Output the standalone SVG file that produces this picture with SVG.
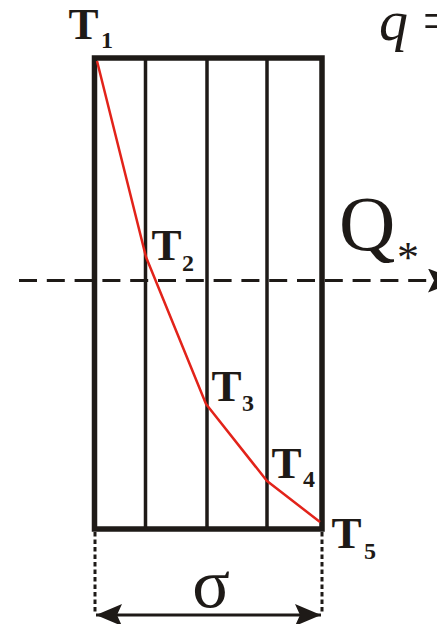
<svg xmlns="http://www.w3.org/2000/svg" width="437" height="624" viewBox="0 0 437 624">
<defs>
<style>
.frame{fill:none;stroke:#1e1a17;stroke-width:5.5}
.div{stroke:#1e1a17;stroke-width:3.5}
.temp{fill:none;stroke:#e2231a;stroke-width:2.5;stroke-linejoin:round}
.flow{stroke:#1e1a17;stroke-width:3;stroke-dasharray:18 9.8}
.ext{stroke:#1e1a17;stroke-width:3;stroke-dasharray:4.5 3}
.dim{stroke:#1e1a17;stroke-width:3}
.T{font-family:"Liberation Serif","Times New Roman",serif;font-weight:bold;font-size:45px;fill:#1e1a17}
.sub{font-family:"Liberation Serif","Times New Roman",serif;font-weight:bold;font-size:24px;fill:#1e1a17}
.lbl{font-family:"Liberation Serif","Times New Roman",serif;fill:#1e1a17}
</style>
<marker id="ah" viewBox="0 0 30 24" refX="30" refY="12" markerWidth="30" markerHeight="24" markerUnits="userSpaceOnUse" orient="auto">
<path d="M0,0 L30,12 L0,24 L6,12 Z" fill="#1e1a17"/>
</marker>
<marker id="dh" viewBox="0 0 26 22" refX="26" refY="11" markerWidth="26" markerHeight="22" markerUnits="userSpaceOnUse" orient="auto-start-reverse">
<path d="M0,0 L26,11 L0,22 L5,11 Z" fill="#1e1a17"/>
</marker>
</defs>
<g id="wall">
<rect class="frame" x="94.5" y="58" width="227.5" height="471"/>
<line class="div" x1="145.5" y1="58" x2="145.5" y2="529"/>
<line class="div" x1="207" y1="58" x2="207" y2="529"/>
<line class="div" x1="267" y1="58" x2="267" y2="529"/>
</g>
<g id="profile">
<polyline class="temp" points="97,61 146,257 206,404 267,481 320,522"/>
</g>
<g id="connectors">
<line class="flow" x1="19" y1="280.5" x2="458" y2="280.5" marker-end="url(#ah)"/>
<line class="ext" x1="95" y1="532" x2="95" y2="612"/>
<line class="ext" x1="322" y1="532" x2="322" y2="612"/>
<line class="dim" x1="96" y1="615" x2="321" y2="615" marker-start="url(#dh)" marker-end="url(#dh)"/>
</g>
<g id="labels">
<text class="T" x="68.5" y="39">T</text><text class="sub" x="101" y="48">1</text>
<text class="T" x="151.5" y="260">T</text><text class="sub" x="182" y="271">2</text>
<text class="T" x="211.5" y="401">T</text><text class="sub" x="242" y="411">3</text>
<text class="T" x="271.5" y="478">T</text><text class="sub" x="303" y="487">4</text>
<text class="T" x="331.5" y="548">T</text><text class="sub" x="364" y="559">5</text>
<text class="lbl" x="339" y="250" font-size="78">Q</text>
<text class="lbl" x="397" y="272" font-size="44">*</text>
<text class="lbl" x="379" y="40" font-size="58"><tspan font-style="italic">q</tspan> =</text>
<text class="lbl" x="211" y="607" font-size="70" text-anchor="middle">σ</text>
</g>
</svg>
